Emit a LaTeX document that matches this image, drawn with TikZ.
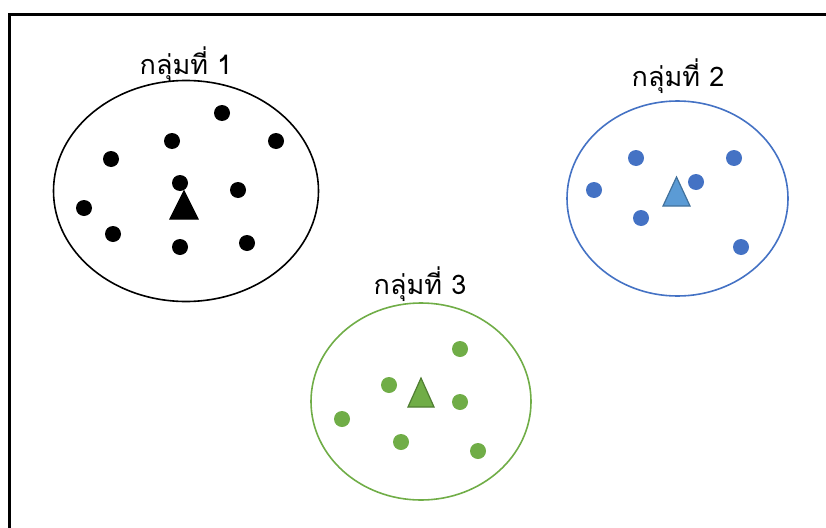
\documentclass[tikz,border=0pt]{standalone}
\usepackage{fontspec}
\newfontfamily\thaifont[Script=Thai]{Loma}
\usetikzlibrary{shapes.geometric}
\definecolor{grpblue}{HTML}{4472C4}
\definecolor{triblue}{HTML}{5B9BD5}
\definecolor{triblueedge}{HTML}{41719C}
\definecolor{grpgreen}{HTML}{70AD47}
\definecolor{trigreenedge}{HTML}{507E32}
\tikzset{
  cluster/.style={ellipse, draw, line width=1.6pt, inner sep=0pt},
  pt/.style={circle, fill=#1, inner sep=0pt, minimum size=16pt},
  lbl/.style={font=\thaifont\fontsize{27}{30}\selectfont, inner sep=0pt},
  centroid/.style={line width=1.2pt, line join=miter}
}
\begin{document}
\begin{tikzpicture}[x=1pt,y=-1pt]
\useasboundingbox (0,0) rectangle (826,527);
% frame
\draw[line width=3pt] (9,540) -- (9,15) -- (840,15);

% cluster 1 (black)
\node[cluster, draw=black, minimum width=265pt, minimum height=221pt] (c1) at (186,191) {};
\node[lbl] (l1) at (186,64) {กลุ่มที่ 1};
\foreach \x/\y [count=\i] in {222/113,172/141,276/141,111/159,180/183,238/190,84/208,113/234,180/247,247/243}
  \node[pt=black] (a\i) at (\x,\y) {};
\draw[centroid, fill=black] (184,191) -- (198,219) -- (170,219) -- cycle;

% cluster 2 (blue)
\node[cluster, draw=grpblue, minimum width=221pt, minimum height=195pt] (c2) at (677.5,198.5) {};
\node[lbl] (l2) at (678,76) {กลุ่มที่ 2};
\foreach \x/\y [count=\i] in {636/158,734/158,594/190,696/182,641/218,741/247}
  \node[pt=grpblue] (b\i) at (\x,\y) {};
\draw[centroid, fill=triblue, draw=triblueedge] (676.5,177) -- (690,206) -- (663,206) -- cycle;

% cluster 3 (green)
\node[cluster, draw=grpgreen, minimum width=220pt, minimum height=197pt] (c3) at (421,401.5) {};
\node[lbl] (l3) at (420,284) {กลุ่มที่ 3};
\foreach \x/\y [count=\i] in {460/349,389/385,460/402,342/419,401/442,478/451}
  \node[pt=grpgreen] (g\i) at (\x,\y) {};
\draw[centroid, fill=grpgreen, draw=trigreenedge] (421,378) -- (434,407) -- (408,407) -- cycle;
\end{tikzpicture}
\end{document}
